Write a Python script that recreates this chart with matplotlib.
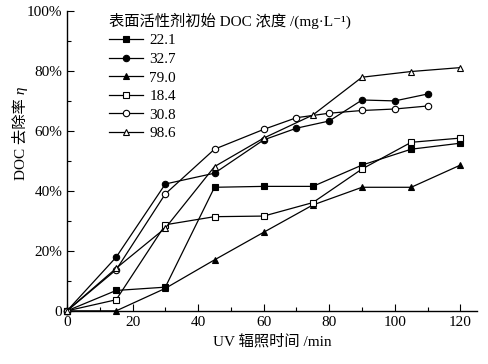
import matplotlib
matplotlib.use("Agg")
import matplotlib.pyplot as plt
from matplotlib.ticker import MultipleLocator, FuncFormatter

plt.rcParams['font.family'] = ['Liberation Serif', 'Noto Sans CJK SC', 'DejaVu Sans']

labels = ['22.1', '32.7', '79.0', '18.4', '30.8', '98.6']

x_221 = [0, 15, 30, 45, 60, 75, 90, 105, 120]
y_221 = [0, 6.8, 7.9, 41.2, 41.5, 41.5, 48.6, 53.9, 55.9]

x_327 = [0, 15, 30, 45, 60, 70, 80, 90, 100, 110]
y_327 = [0, 17.9, 42.3, 45.9, 57.0, 60.9, 63.3, 70.3, 70.0, 72.3]

x_790 = [0, 15, 30, 45, 60, 75, 90, 105, 120]
y_790 = [0, 0, 7.5, 17.0, 26.2, 35.3, 41.2, 41.2, 48.6]

x_184 = [0, 15, 30, 45, 60, 75, 90, 105, 120]
y_184 = [0, 3.7, 28.7, 31.4, 31.6, 36.1, 47.3, 56.2, 57.6]

x_308 = [0, 15, 30, 45, 60, 70, 80, 90, 100, 110]
y_308 = [0, 13.7, 39.0, 53.9, 60.5, 64.4, 65.9, 66.8, 67.3, 68.3]

x_986 = [0, 15, 30, 45, 60, 75, 90, 105, 120]
y_986 = [0, 14.2, 27.6, 48.1, 57.6, 65.3, 77.9, 79.8, 81.1]

series = [
    (x_221, y_221, 's', 'black'),
    (x_327, y_327, 'o', 'black'),
    (x_790, y_790, '^', 'black'),
    (x_184, y_184, 's', 'white'),
    (x_308, y_308, 'o', 'white'),
    (x_986, y_986, '^', 'white'),
]

fig = plt.figure(figsize=(4.89, 3.64), dpi=100)
ax = fig.add_axes([0.137, 0.146, 0.838, 0.824])

for (xs, ys, m, fc), lab in zip(series, labels):
    ax.plot(xs, [v / 100 for v in ys], color='black', lw=0.9, marker=m,
            markersize=4.6, markerfacecolor=fc, markeredgecolor='black',
            markeredgewidth=0.8, label=lab, clip_on=False, zorder=3)

ax.set_xlim(0, 125)
ax.set_ylim(0, 1.0)
ax.xaxis.set_major_locator(MultipleLocator(20))
ax.xaxis.set_minor_locator(MultipleLocator(10))
ax.yaxis.set_major_locator(MultipleLocator(0.2))
ax.yaxis.set_minor_locator(MultipleLocator(0.1))
ax.yaxis.set_major_formatter(FuncFormatter(lambda v, p: '0' if abs(v) < 1e-9 else f'{v*100:.0f}%'))
for s in ['top', 'right']:
    ax.spines[s].set_visible(False)
for s in ['left', 'bottom']:
    ax.spines[s].set_linewidth(1.0)
ax.tick_params(which='both', direction='in', labelsize=11, width=0.8)
ax.tick_params(which='major', length=5)
ax.tick_params(which='minor', length=3)

ax.set_xlabel('UV 辐照时间 /min', fontsize=11, labelpad=4)

# y label: regular text + italic eta
t1 = fig.text(21 / 489, 1 - 180 / 364, 'DOC 去除率', rotation=90,
              ha='center', va='bottom', fontsize=11)
ax.annotate(' η', xy=(0.5, 1.0), xycoords=t1, rotation=90, ha='center',
            va='bottom', fontsize=11, style='italic',
            annotation_clip=False)

leg = ax.legend(loc='upper left', bbox_to_anchor=(0.08, 1.025), frameon=False,
                title='表面活性剂初始 DOC 浓度 /(mg·L⁻¹)',
                fontsize=11, title_fontsize=11, handlelength=2.2,
                labelspacing=0.32, handletextpad=0.45, borderaxespad=0.2)
leg._legend_box.align = 'left'

fig.savefig('out.png', dpi=100)
